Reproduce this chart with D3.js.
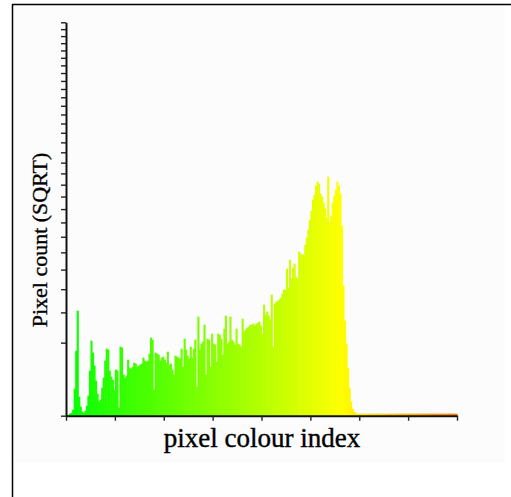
<!DOCTYPE html>
<html>
<head>
<meta charset="utf-8">
<script src="https://cdn.jsdelivr.net/npm/d3@7"></script>
<style>
  html, body { margin: 0; padding: 0; background: #ffffff; }
  svg { display: block; }
</style>
</head>
<body>
<svg id="chart" width="511" height="497"></svg>
<script>
// pixel counts per colour index (0..255) (sqrt-scaled axis)
const counts = [
  0.2, 0.2, 0.75, 1.7, 6.7, 137, 792, 2066, 68, 15,
  3, 1.7, 4.7, 19, 75, 379, 1054, 744, 469, 230,
  91, 37, 48, 147, 271, 567, 841, 816, 379, 285,
  243, 127, 397, 379, 12, 892, 867, 315, 271, 300,
  588, 432, 414, 450, 526, 507, 450, 469, 487, 507,
  630, 567, 546, 567, 720, 1140, 1082, 127, 744, 720,
  697, 567, 630, 652, 588, 526, 768, 487, 507, 397,
  315, 675, 652, 630, 609, 841, 450, 1111, 816, 675,
  609, 892, 630, 841, 1082, 158, 1837, 816, 972, 1026,
  1552, 315, 1111, 1082, 450, 1260, 972, 945, 546, 1260,
  1230, 1111, 697, 1418, 1874, 972, 1026, 1837, 1082, 1026,
  945, 1418, 972, 945, 892, 1763, 1322, 1386, 1451, 1484,
  1552, 1552, 1586, 1518, 1586, 1621, 1656, 1518, 1260, 2309,
  1912, 2027, 1874, 1727, 2744, 892, 2351, 2435, 2478, 2522,
  2609, 2789, 2975, 2975, 4050, 3070, 4561, 3517, 4105, 4330,
  3621, 3517, 5040, 4918, 4858, 4858, 5480, 5937, 6483, 7199,
  7876, 8743, 9153, 9914, 10261, 10087, 9236, 8988, 8502, 8030,
  7347, 10704, 6981, 7496, 8502, 9070, 9572, 10261, 9914, 9236,
  6765, 3167, 1691, 972, 432, 147, 37, 9.2, 3, 1.7,
  0.75, 0.75, 0.75, 0.75, 0.75, 0.75, 0.75, 0.75, 0.75, 0.75,
  0.75, 0.75, 0.75, 0.75, 0.75, 0.75, 0.75, 0.75, 0.75, 0.75,
  0.75, 0.75, 0.75, 0.75, 0.75, 0.75, 0.75, 0.75, 0.75, 0.75,
  0.75, 0.75, 0.75, 0.75, 0.75, 0.75, 0.75, 0.75, 0.75, 0.75,
  0.75, 0.75, 0.75, 0.75, 0.75, 0.75, 0.75, 0.75, 0.75, 0.75,
  0.75, 0.75, 0.75, 0.75, 0.75, 0.75, 0.75, 0.75, 0.75, 0.75,
  0.75, 0.75, 0.75, 0.75, 0.75, 0.75
];
const xTickValues = [0, 32, 64, 96, 128, 160, 192, 224, 256];
const yTickValues = d3.range(0, 29001, 1000);
const xTitle = "pixel colour index";
const yTitle = "Pixel count (SQRT)";
const hueStops = [0, 180, 255];
const hueValues = [120, 60, 28];

const svg = d3.select("#chart");

// frame
svg.append("rect")
  .attr("x", 13).attr("y", 5).attr("width", 492).attr("height", 458)
  .attr("fill", "#fcfcfc");
svg.append("rect")
  .attr("x", 12.5).attr("y", 4.5).attr("width", 700).attr("height", 700)
  .attr("fill", "none").attr("stroke", "#000").attr("stroke-width", 1.5);

const x = d3.scaleLinear().domain([0, 256]).range([66, 457]);
const y = d3.scaleSqrt().domain([0, 29000]).range([415.7, 22.3]);
const hue = d3.scaleLinear().domain(hueStops).range(hueValues);

// bars
svg.append("g")
  .selectAll("rect")
  .data(counts)
  .join("rect")
  .attr("x", (d, i) => x(i))
  .attr("width", (d, i) => x(i + 1) - x(i) + 0.6)
  .attr("y", d => y(d))
  .attr("height", d => y(0) - y(d))
  .attr("fill", (d, i) => d3.hsl(hue(i), 1, 0.5).toString());

// axes
const yAxis = svg.append("g")
  .attr("transform", "translate(66,0)")
  .call(d3.axisLeft(y).tickValues(yTickValues).tickFormat("").tickSize(5).tickSizeOuter(0));
yAxis.select(".domain").attr("stroke", "#111").attr("stroke-width", 2);
yAxis.selectAll(".tick line").attr("stroke", "#222").attr("stroke-width", 1.4);

const xAxis = svg.append("g")
  .attr("transform", "translate(0,415.7)")
  .call(d3.axisBottom(x).tickValues(xTickValues).tickFormat("").tickSize(5).tickSizeOuter(0));
xAxis.select(".domain").attr("stroke", "#111").attr("stroke-width", 2);
xAxis.selectAll(".tick line").attr("stroke", "#222").attr("stroke-width", 1.4);

// titles
svg.append("text")
  .attr("x", 262).attr("y", 447)
  .attr("text-anchor", "middle")
  .attr("font-family", "'Liberation Serif', 'DejaVu Serif', serif")
  .attr("font-size", 27)
  .attr("fill", "#000")
  .attr("stroke", "#000").attr("stroke-width", 0.4)
  .text(xTitle);

svg.append("text")
  .attr("transform", "translate(47,240) rotate(-90)")
  .attr("text-anchor", "middle")
  .attr("font-family", "'Liberation Serif', 'DejaVu Serif', serif")
  .attr("font-size", 22)
  .attr("fill", "#000")
  .attr("stroke", "#000").attr("stroke-width", 0.35)
  .text(yTitle);
</script>
</body>
</html>
